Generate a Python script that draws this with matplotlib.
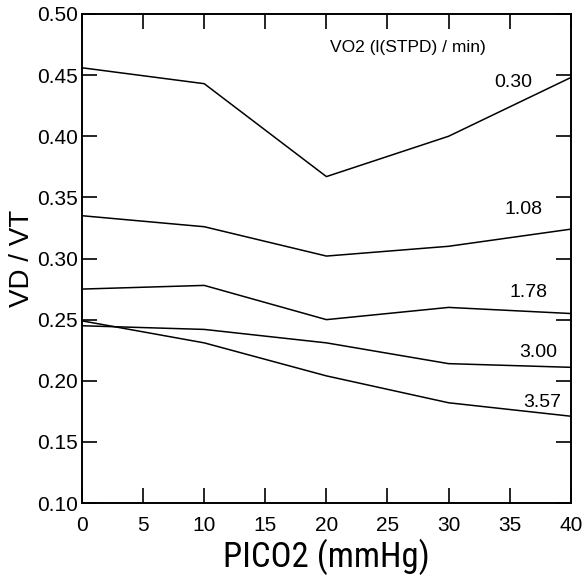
import matplotlib
matplotlib.use("Agg")
import matplotlib.pyplot as plt
from matplotlib import font_manager

# PICO2 (mmHg) values where VD/VT was measured
pico2 = [0, 10, 20, 30, 40]

# VD/VT for each VO2 level (l(STPD)/min)
vo2_levels = ["0.30", "1.08", "1.78", "3.00", "3.57"]
vd_vt_030 = [0.456, 0.443, 0.367, 0.400, 0.448]
vd_vt_108 = [0.335, 0.326, 0.302, 0.310, 0.324]
vd_vt_178 = [0.275, 0.278, 0.250, 0.260, 0.255]
vd_vt_300 = [0.245, 0.242, 0.231, 0.214, 0.211]
vd_vt_357 = [0.249, 0.231, 0.204, 0.182, 0.171]
series = [vd_vt_030, vd_vt_108, vd_vt_178, vd_vt_300, vd_vt_357]

# where the VO2 labels sit (data coords)
label_x = [35.3, 36.1, 36.5, 37.3, 37.7]
label_y = [0.444, 0.340, 0.272, 0.2235, 0.1826]

plt.rcParams["font.family"] = ["Liberation Sans", "DejaVu Sans"]

# a narrow face for the x label if one is installed
names = {f.name for f in font_manager.fontManager.ttflist}
narrow = [n for n in ["Liberation Sans Narrow", "DejaVu Sans Condensed",
                      "Roboto Condensed", "Open Sans Condensed"] if n in names]
xlab_family = narrow[:1] + ["Liberation Sans"]
xlab_size = 25 if narrow else 21

fig = plt.figure(figsize=(5.86, 5.76), dpi=100)
ax = fig.add_axes([0.140, 0.1267, 0.834, 0.849])

for vals in series:
    ax.plot(pico2, vals, color="black", linewidth=1.1)

for txt, lx, ly in zip(vo2_levels, label_x, label_y):
    ax.text(lx, ly, txt, ha="center", va="center", fontsize=14)

ax.text(26.7, 0.473, "VO2 (l(STPD) / min)", ha="center", va="center",
        fontsize=12.5)

ax.set_xlim(0, 40)
ax.set_ylim(0.10, 0.50)
ax.set_xticks(range(0, 41, 5))
ax.set_yticks([0.10, 0.15, 0.20, 0.25, 0.30, 0.35, 0.40, 0.45, 0.50])
ax.set_yticklabels(["%.2f" % v for v in ax.get_yticks()])

ax.tick_params(direction="in", length=10.8, width=1.2, top=True, right=True,
               labelsize=15)
ax.tick_params(axis="x", pad=9)
ax.tick_params(axis="y", pad=3)
for sp in ax.spines.values():
    sp.set_linewidth(1.4)

ax.set_xlabel("PICO2 (mmHg)", fontsize=xlab_size, family=xlab_family)
ax.xaxis.label.set_va("baseline")
ax.xaxis.set_label_coords(0.5, -0.131)
ax.set_ylabel("VD / VT", fontsize=20)
ax.yaxis.label.set_va("center")
ax.yaxis.label.set_ha("center")
ax.yaxis.set_label_coords(-0.1227, 0.5)

fig.savefig("out.png", dpi=100)
